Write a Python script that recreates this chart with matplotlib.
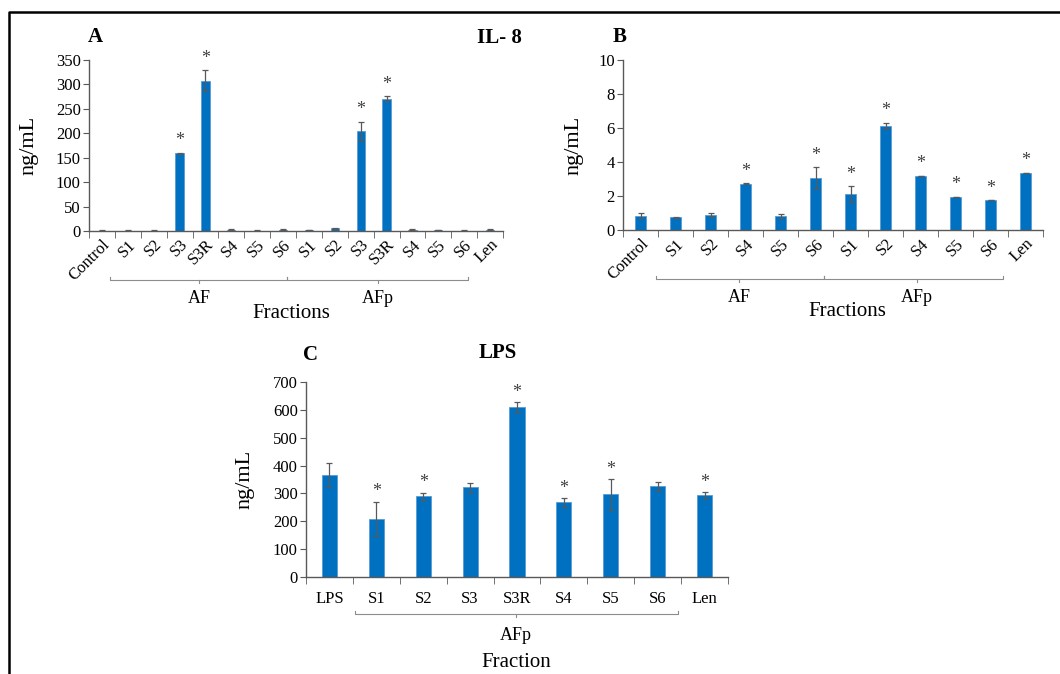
import matplotlib
matplotlib.use("Agg")
import matplotlib.pyplot as plt
import matplotlib.transforms as mtransforms
from matplotlib.lines import Line2D

plt.rcParams['font.family'] = ['Liberation Serif', 'DejaVu Serif']

# panel A - IL-8
a_labels = ["Control", "S1", "S2", "S3", "S3R", "S4", "S5", "S6",
            "S1", "S2", "S3", "S3R", "S4", "S5", "S6", "Len"]
a_vals = [1, 1, 1, 159, 308, 3, 1, 3, 2, 6, 204, 271, 3, 2, 1, 3]
a_err = [0.5, 0.5, 0.5, 1, 21, 0.5, 0.5, 0.5, 0.5, 1, 20, 5, 0.5, 0.5, 0.5, 0.5]
a_star = [3, 4, 10, 11]

# panel B - IL-8 (low range)
b_labels = ["Control", "S1", "S2", "S4", "S5", "S6",
            "S1", "S2", "S4", "S5", "S6", "Len"]
b_vals = [0.85, 0.75, 0.87, 2.72, 0.85, 3.05, 2.1, 6.12, 3.2, 1.95, 1.75, 3.37]
b_err = [0.15, 0.03, 0.13, 0.03, 0.12, 0.65, 0.48, 0.2, 0.0, 0.0, 0.0, 0.0]
b_star = [3, 5, 6, 7, 8, 9, 10, 11]

# panel C - LPS
c_labels = ["LPS", "S1", "S2", "S3", "S3R", "S4", "S5", "S6", "Len"]
c_vals = [365, 208, 290, 322, 610, 268, 297, 325, 293]
c_err = [43, 62, 13, 17, 17, 15, 55, 16, 12]
c_star = [1, 2, 4, 5, 6, 8]

W, H = 1060, 674
BLUE = "#0070C0"
GREY = "#595959"


def rect(l, t, r, b):
    return [l / W, 1 - b / H, (r - l) / W, (b - t) / H]


def style(ax, n, ymax, step, ylx):
    for s in ["top", "right"]:
        ax.spines[s].set_visible(False)
    for s in ["left", "bottom"]:
        ax.spines[s].set_color(GREY)
        ax.spines[s].set_linewidth(1.0)
    ax.set_xlim(-0.5, n - 0.5)
    ax.set_ylim(0, ymax)
    ax.set_yticks(range(0, ymax + 1, step))
    ax.set_xticks([i - 0.5 for i in range(n + 1)], minor=True)
    ax.tick_params(axis="x", which="minor", length=5, color=GREY, direction="out")
    ax.tick_params(axis="x", which="major", length=0, pad=4)
    ax.tick_params(axis="y", length=4, color=GREY, labelsize=12, pad=2)
    ax.set_ylabel("ng/mL", fontsize=16)
    ax.yaxis.set_label_coords(ylx, 0.5)


def bars(ax, vals, err, stars, off):
    x = range(len(vals))
    ax.bar(x, vals, width=0.32, color=BLUE, edgecolor="#5B9BD5", linewidth=0.6, zorder=2)
    ax.errorbar(x, vals, yerr=err, fmt="none", ecolor=GREY, elinewidth=0.9,
                capsize=2, capthick=0.9, zorder=3)
    for i in stars:
        ax.annotate("*", (i, vals[i] + err[i]), xytext=(0, off), textcoords="offset points",
                    ha="center", va="bottom", fontsize=13, color="#404040")


def bracket(ax, x0, x1, xc, y, up=0.02):
    tr = mtransforms.blended_transform_factory(ax.transData, ax.transAxes)
    kw = dict(color="#8c8c8c", lw=0.8, transform=tr, clip_on=False)
    ax.add_line(Line2D([x0, x0, x1, x1], [y + up, y, y, y + up], **kw))
    ax.add_line(Line2D([xc, xc], [y, y - up], **kw))


def group_text(ax, x, y, s, size):
    tr = mtransforms.blended_transform_factory(ax.transData, ax.transAxes)
    ax.text(x, y, s, transform=tr, ha="center", va="center", fontsize=size)


fig = plt.figure(figsize=(W / 100, H / 100), dpi=100)

# outer frame (left and top only visible)
fig.add_artist(Line2D([9 / W, 9 / W, 1.0], [0, 1 - 12 / H, 1 - 12 / H],
                      color="black", lw=1.8, transform=fig.transFigure))

# A
axA = fig.add_axes(rect(89, 60, 503, 231))
style(axA, len(a_vals), 350, 50, -0.121)
bars(axA, a_vals, a_err, a_star, 2.5)
axA.set_xticks(range(len(a_labels)))
axA.set_xticklabels(a_labels, rotation=45, ha="right", va="top",
                    rotation_mode="anchor", fontsize=12)
bracket(axA, 0.31, 7.15, 3.75, -0.287)
bracket(axA, 7.15, 14.13, 10.66, -0.287)
group_text(axA, 3.75, -0.395, "AF", 13)
group_text(axA, 10.66, -0.395, "AFp", 13)
group_text(axA, 7.3, -0.48, "Fractions", 15)
fig.text(88 / W, 1 - 37 / H, "A", fontsize=15, fontweight="bold", ha="left", va="center")
fig.text(477 / W, 1 - 38 / H, "IL- 8", fontsize=15, fontweight="bold", ha="left", va="center")

# B
axB = fig.add_axes(rect(623, 60, 1043, 230))
style(axB, len(b_vals), 10, 2, -0.093)
bars(axB, b_vals, b_err, b_star, 2.5)
axB.set_xticks(range(len(b_labels)))
axB.set_xticklabels(b_labels, rotation=45, ha="right", va="top",
                    rotation_mode="anchor", fontsize=12)
bracket(axB, 0.44, 5.24, 2.81, -0.288)
bracket(axB, 5.24, 10.36, 7.9, -0.288)
group_text(axB, 2.81, -0.395, "AF", 13)
group_text(axB, 7.9, -0.395, "AFp", 13)
group_text(axB, 5.9, -0.48, "Fractions", 15)
fig.text(613 / W, 1 - 37 / H, "B", fontsize=15, fontweight="bold", ha="left", va="center")

# C
axC = fig.add_axes(rect(306, 382, 728, 577))
style(axC, len(c_vals), 700, 100, -0.123)
bars(axC, c_vals, c_err, c_star, 1)
axC.set_xticks(range(len(c_labels)))
axC.set_xticklabels(c_labels, fontsize=12)
axC.tick_params(axis="x", which="major", pad=10)
bracket(axC, 0.545, 7.43, 3.98, -0.19, up=0.015)
group_text(axC, 3.98, -0.30, "AFp", 13)
group_text(axC, 3.98, -0.436, "Fraction", 15)
fig.text(303 / W, 1 - 355 / H, "C", fontsize=15, fontweight="bold", ha="left", va="center")
fig.text(498 / W, 1 - 353 / H, "LPS", fontsize=15, fontweight="bold", ha="center", va="center")

fig.savefig("out.png", dpi=100)
